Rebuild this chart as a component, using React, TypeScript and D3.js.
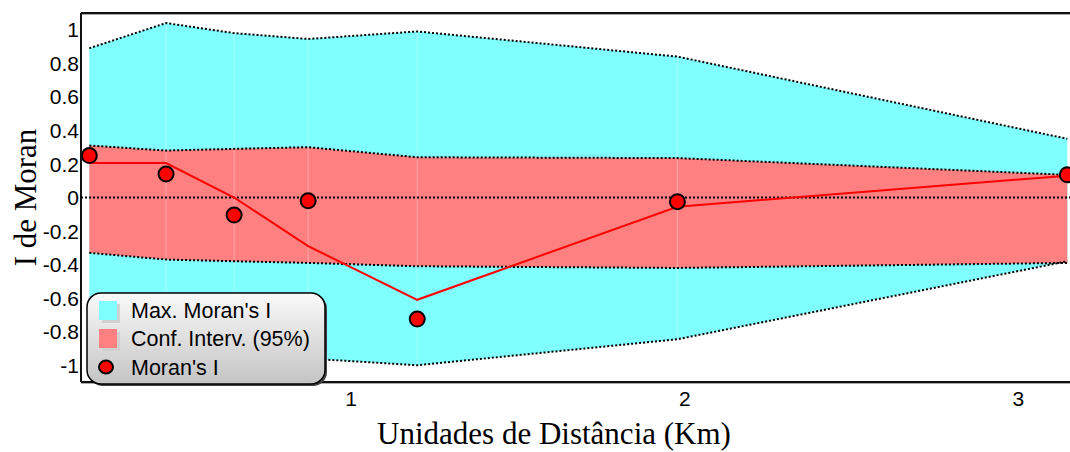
import * as d3 from 'd3'

// Distance classes (Km) and the Moran's I correlogram values
const distances = [0.215, 0.445, 0.649, 0.871, 1.198, 1.978, 3.147]
const maxUpper = [0.89, 1.04, 0.98, 0.945, 0.99, 0.84, 0.35]
const maxLower = [-0.84, -0.89, -0.93, -0.96, -1.0, -0.845, -0.38]
const confUpper = [0.31, 0.28, 0.29, 0.3, 0.24, 0.235, 0.135]
const confLower = [-0.33, -0.37, -0.38, -0.39, -0.41, -0.42, -0.39]
const moranI = [0.25, 0.14, -0.105, -0.02, -0.725, -0.025, 0.135]
const trend = [0.205, 0.205, 0.0, -0.29, -0.61, -0.055, 0.13]

const yTicks = [1, 0.8, 0.6, 0.4, 0.2, 0, -0.2, -0.4, -0.6, -0.8, -1]
const xTicks = [1, 2, 3]
const legendItems = ["Max. Moran's I", 'Conf. Interv. (95%)', "Moran's I"]

const W = 1070
const H = 452
const left = 81
const top = 13
const bottom = 382

export default function App() {
  const x = d3.scaleLinear().domain([0.19, 3.2]).range([left, 1085])
  const y = d3.scaleLinear().domain([-1.1, 1.1]).range([bottom, top])

  const idx = distances.map((_, i) => i)

  const band = (hi: number[], lo: number[]) =>
    d3.area<number>()
      .x(i => x(distances[i]))
      .y0(i => y(lo[i]))
      .y1(i => y(hi[i]))(idx) || ''

  const line = (vals: number[]) =>
    d3.line<number>()
      .x(i => x(distances[i]))
      .y(i => y(vals[i]))(idx) || ''

  const sans = '"Liberation Sans", Arial, sans-serif'
  const serif = '"Liberation Serif", "Times New Roman", serif'
  const dotted = { fill: 'none', stroke: '#000', strokeWidth: 2, strokeDasharray: '2,2' }

  return (
    <svg width={W} height={H} style={{ position: 'absolute', left: 0, top: 0 }}>
      <defs>
        <clipPath id="plot">
          <rect x={left} y={top} width={W - left} height={bottom - top} />
        </clipPath>
        <linearGradient id="legendBg" x1="0" y1="0" x2="0" y2="1">
          <stop offset="0%" stopColor="#fafafa" />
          <stop offset="100%" stopColor="#c4c4c4" />
        </linearGradient>
      </defs>

      <g clipPath="url(#plot)">
        <path d={band(maxUpper, maxLower)} fill="#80ffff" />
        <path d={band(confUpper, confLower)} fill="#ff8080" />
        {distances.slice(1, -1).map((d, i) => (
          <line key={i} x1={x(d)} x2={x(d)} y1={y(maxUpper[i + 1])} y2={y(maxLower[i + 1])}
            stroke="#fff" strokeOpacity={0.3} strokeWidth={1} />
        ))}
        <path d={line(maxUpper)} {...dotted} />
        <path d={line(maxLower)} {...dotted} />
        <path d={line(confUpper)} {...dotted} />
        <path d={line(confLower)} {...dotted} />
        <line x1={left} x2={W} y1={y(0)} y2={y(0)} {...dotted} />
        <path d={line(trend)} fill="none" stroke="#ff0000" strokeWidth={2} />
        {moranI.map((v, i) => (
          <circle key={i} cx={x(distances[i])} cy={y(v)} r={7.5} fill="#ff0000" stroke="#000" strokeWidth={2} />
        ))}
      </g>

      {/* frame */}
      <line x1={left} x2={W} y1={top} y2={top} stroke="#111" strokeWidth={2} />
      <line x1={left} x2={W} y1={top + 1.5} y2={top + 1.5} stroke="#aaa" strokeWidth={1} />
      <line x1={left} x2={W} y1={bottom} y2={bottom} stroke="#111" strokeWidth={2} />
      <line x1={left} x2={W} y1={bottom + 1.5} y2={bottom + 1.5} stroke="#aaa" strokeWidth={1} />
      <line x1={left} x2={left} y1={top} y2={bottom} stroke="#111" strokeWidth={2} />

      {yTicks.map(t => (
        <text key={t} x={79} y={y(t)} dy="0.36em" textAnchor="end" fontFamily={sans} fontSize={21} fill="#000">
          {t}
        </text>
      ))}
      {xTicks.map(t => (
        <text key={t} x={x(t)} y={406} textAnchor="middle" fontFamily={sans} fontSize={21} fill="#000">
          {t}
        </text>
      ))}

      <text x={554} y={444} textAnchor="middle" fontFamily={serif} fontSize={31} fill="#000">
        Unidades de Distância (Km)
      </text>
      <text transform={`translate(36,${y(0)}) rotate(-90)`} textAnchor="middle" fontFamily={serif} fontSize={31} fill="#000">
        I de Moran
      </text>

      {/* legend */}
      <g>
        <rect x={89} y={295} width={238} height={91} rx={14} fill="#444" />
        <rect x={87} y={293} width={238} height={91} rx={14} fill="url(#legendBg)" stroke="#000" strokeWidth={1.5} />
        <rect x={102} y={304} width={18} height={19} fill="#d0d0d0" />
        <rect x={99} y={301} width={18} height={19} fill="#80ffff" />
        <rect x={102} y={332} width={18} height={19} fill="#d0d0d0" />
        <rect x={99} y={329} width={18} height={19} fill="#ff8080" />
        <ellipse cx={106} cy={367} rx={7} ry={6.5} fill="#ff0000" stroke="#000" strokeWidth={2} />
        {legendItems.map((t, i) => (
          <text key={t} x={131} y={310 + i * 28.5} dy="0.36em" fontFamily={sans} fontSize={21.5} fill="#000">
            {t}
          </text>
        ))}
      </g>
    </svg>
  )
}
